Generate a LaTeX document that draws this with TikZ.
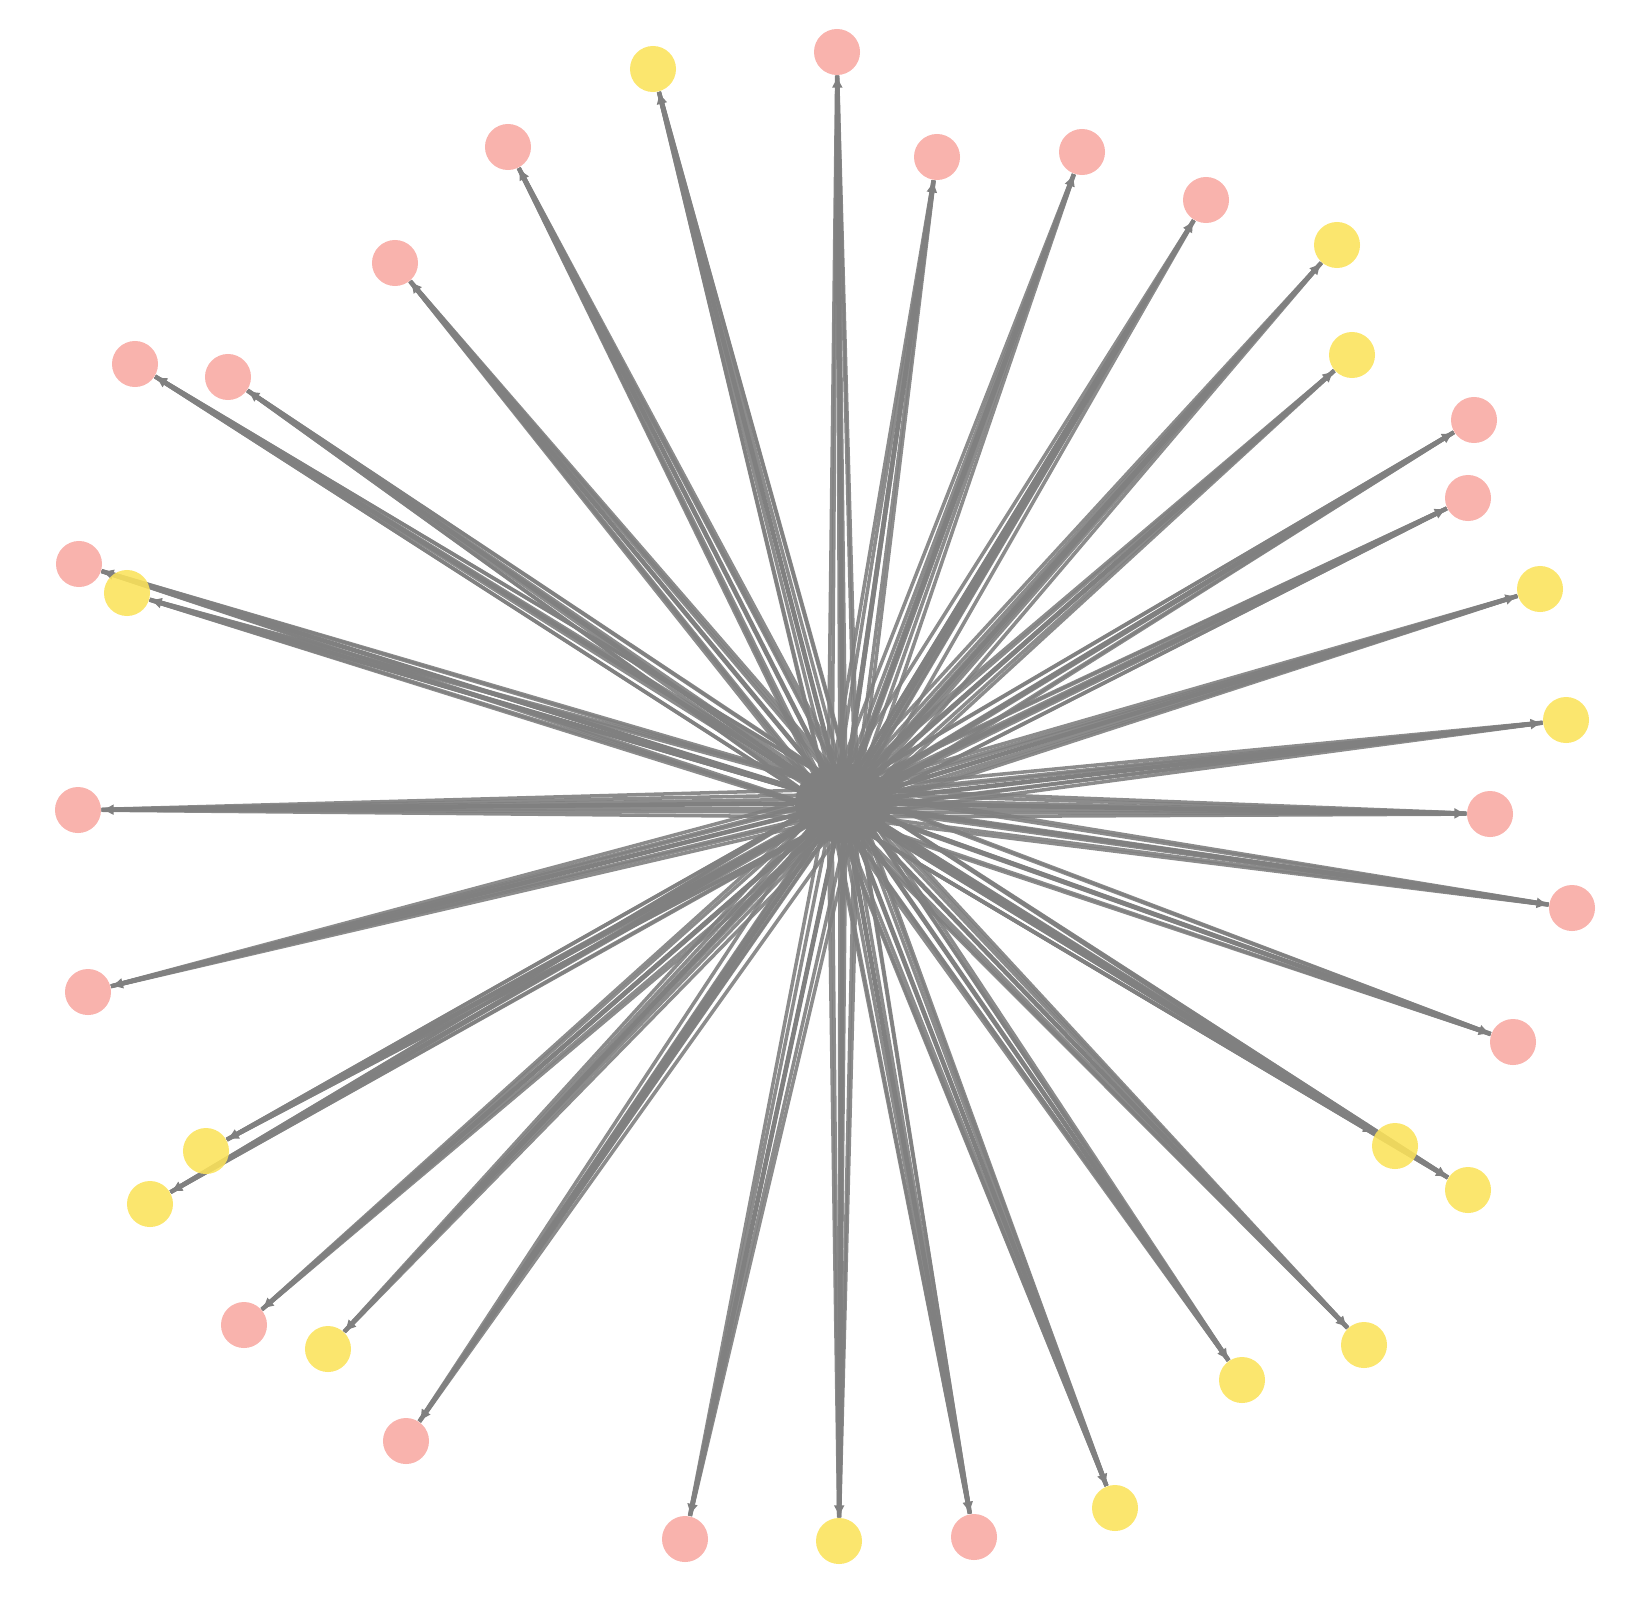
\documentclass[tikz,border=0pt]{standalone}
\usepackage{tikz}
\usetikzlibrary{arrows.meta,backgrounds}
\definecolor{nodepink}{RGB}{248,168,162}
\definecolor{nodeyellow}{RGB}{251,227,90}
\definecolor{spokegray}{RGB}{128,128,128}
\tikzset{
  pinknode/.style={circle, fill=nodepink, fill opacity=0.88, minimum size=0.46cm, inner sep=0pt},
  yellownode/.style={circle, fill=nodeyellow, fill opacity=0.88, minimum size=0.46cm, inner sep=0pt},
  spoke/.style={draw=spokegray, line width=1.3pt, -{Latex[length=3.4pt,width=3.2pt]}},
  strand/.style={draw=spokegray, line width=1pt, opacity=0.9},
}

\begin{document}
\begin{tikzpicture}[x=0.01cm, y=-0.01cm]
        \useasboundingbox (0,0) rectangle (1637,1615);

        % Hub
        \coordinate (hub) at (843,803);
        \coordinate (hubA) at (828,799);
        \coordinate (hubB) at (858,808);
        \coordinate (hubC) at (846,789);
        \coordinate (hubD) at (840,817);
        \coordinate (hubE) at (832,812);
        \coordinate (hubF) at (855,794);
        \fill[spokegray] (hub) ellipse (48 and 40);

        % Nodes, clockwise from the top
        \node[pinknode]   (n1)  at (837,52)   {};
        \node[pinknode]   (n2)  at (937,157)  {};
        \node[pinknode]   (n3)  at (1082,152) {};
        \node[pinknode]   (n4)  at (1206,200) {};
        \node[yellownode] (n5)  at (1337,245) {};
        \node[yellownode] (n6)  at (1352,355) {};
        \node[pinknode]   (n7)  at (1474,420) {};
        \node[pinknode]   (n8)  at (1468,498) {};
        \node[yellownode] (n9)  at (1540,589) {};
        \node[yellownode] (n10) at (1566,720) {};
        \node[pinknode]   (n11) at (1490,814) {};
        \node[pinknode]   (n12) at (1572,908) {};
        \node[pinknode]   (n13) at (1513,1042) {};
        \node[yellownode] (n14) at (1395,1146) {};
        \node[yellownode] (n15) at (1468,1190) {};
        \node[yellownode] (n16) at (1364,1345) {};
        \node[yellownode] (n17) at (1242,1380) {};
        \node[yellownode] (n18) at (1115,1508) {};
        \node[pinknode]   (n19) at (974,1537) {};
        \node[yellownode] (n20) at (839,1541) {};
        \node[pinknode]   (n21) at (685,1539) {};
        \node[pinknode]   (n22) at (406,1441) {};
        \node[yellownode] (n23) at (328,1349) {};
        \node[pinknode]   (n24) at (244,1325) {};
        \node[yellownode] (n25) at (150,1204) {};
        \node[yellownode] (n26) at (206,1151) {};
        \node[pinknode]   (n27) at (88,992)   {};
        \node[pinknode]   (n28) at (78,810)   {};
        \node[yellownode] (n29) at (127,593)  {};
        \node[pinknode]   (n30) at (79,564)   {};
        \node[pinknode]   (n31) at (135,364)  {};
        \node[pinknode]   (n32) at (228,377)  {};
        \node[pinknode]   (n33) at (395,263)  {};
        \node[pinknode]   (n34) at (508,147)  {};
        \node[yellownode] (n35) at (653,69)   {};

        % Spokes from the hub, under the nodes
        \begin{scope}[on background layer]
            \foreach \i in {1,...,35} {
                \foreach \h in {hubA,hubB,hubC,hubD,hubE,hubF}
                    \draw[strand] (\h) -- (n\i);
                \draw[spoke] (hub) -- (n\i);
            }
        \end{scope}
    \end{tikzpicture}
\end{document}
